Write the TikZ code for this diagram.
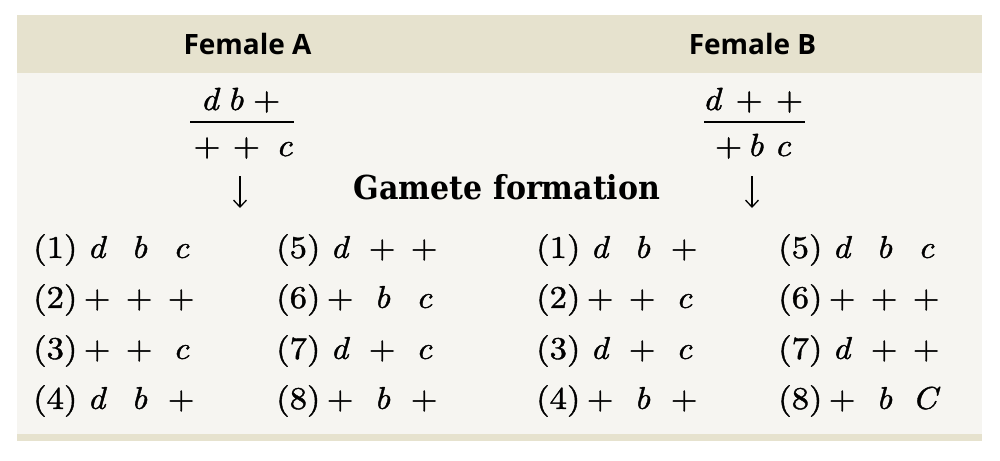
\documentclass[tikz,border=0pt]{standalone}
\usepackage{fontspec}
\newfontfamily\headfont{Open Sans}
\newfontfamily\gfont{lmroman10}[Extension=.otf, UprightFont=*-regular, ItalicFont=*-italic, FakeStretch=1.1, FakeBold=1.2]
\newfontfamily\tfont{DejaVu Serif}[FakeStretch=0.91]
\usetikzlibrary{arrows.meta}
\definecolor{headbg}{HTML}{E6E2CE}
\definecolor{bodybg}{HTML}{F6F5F1}
\newcommand{\gi}[1]{\textit{#1}}
\newcommand{\gent}[4]{\makebox[43pt][l]{(#1)}\makebox[42pt]{#2}\makebox[42pt]{#3}\makebox[42pt]{#4}}
\begin{document}
\begin{tikzpicture}[x=1pt,y=-1pt,
  head/.style={font=\headfont\bfseries\fontsize{28}{32}\selectfont, anchor=base, inner sep=0},
  frac/.style={font=\gfont\fontsize{32}{38}\selectfont, anchor=base, inner sep=0},
  gam/.style={font=\gfont\fontsize{31.5}{36}\selectfont, anchor=west, inner sep=0},
  title/.style={font=\tfont\bfseries\fontsize{33}{40}\selectfont, anchor=base, inner sep=0},
  bar/.style={line width=1.4pt},
  arr/.style={line width=1.3pt, -{Straight Barb[length=7pt,width=13pt]}}]
\useasboundingbox (0,0) rectangle (1000,460);
\fill[white] (0,0) rectangle (1000,460);
\fill[bodybg] (17,15) rectangle (982,441);
\fill[headbg] (17,15) rectangle (982,73);
\fill[headbg] (17,434) rectangle (982,441);
% headers
\node[head] (fA) at (247.5,55) {Female A};
\node[head] (fB) at (752.5,55) {Female B};
% fraction A
\node[frac] (nA) at (240.5,110) {\gi{d}\kern7pt\gi{b}\kern9.5pt+};
\node[frac] (dA) at (243,156) {+\kern12pt+\kern16pt\gi{c}};
\coordinate (bA1) at (190,122);
\coordinate (bA2) at (294,122);
\draw[bar] (bA1) -- (bA2);
\coordinate (aA1) at (240,176);
\coordinate (aA2) at (240,208);
\draw[arr] (aA1) -- (aA2);
% fraction B
\node[frac] (nB) at (753,110) {\gi{d}\kern13pt+\kern13pt+};
\node[frac] (dB) at (753,156) {+\kern5pt\gi{b}\kern11pt\gi{c}};
\coordinate (bB1) at (704,122);
\coordinate (bB2) at (805,122);
\draw[bar] (bB1) -- (bB2);
\coordinate (aB1) at (752,176);
\coordinate (aB2) at (752,208);
\draw[arr] (aB1) -- (aB2);
% title
\node[title] (gf) at (507,199) {Gamete formation};
% Female A gametes
\node[gam] (a1) at (33,250) {\gent{1}{\gi d}{\gi b}{\gi c}};
\node[gam] (a2) at (33,300) {\gent{2}{+}{+}{+}};
\node[gam] (a3) at (33,351) {\gent{3}{+}{+}{\gi c}};
\node[gam] (a4) at (33,401) {\gent{4}{\gi d}{\gi b}{+}};
\node[gam] (a5) at (276,250) {\gent{5}{\gi d}{+}{+}};
\node[gam] (a6) at (276,300) {\gent{6}{+}{\gi b}{\gi c}};
\node[gam] (a7) at (276,351) {\gent{7}{\gi d}{+}{\gi c}};
\node[gam] (a8) at (276,401) {\gent{8}{+}{\gi b}{+}};
% Female B gametes
\node[gam] (b1) at (536,250) {\gent{1}{\gi d}{\gi b}{+}};
\node[gam] (b2) at (536,300) {\gent{2}{+}{+}{\gi c}};
\node[gam] (b3) at (536,351) {\gent{3}{\gi d}{+}{\gi c}};
\node[gam] (b4) at (536,401) {\gent{4}{+}{\gi b}{+}};
\node[gam] (b5) at (778,250) {\gent{5}{\gi d}{\gi b}{\gi c}};
\node[gam] (b6) at (778,300) {\gent{6}{+}{+}{+}};
\node[gam] (b7) at (778,351) {\gent{7}{\gi d}{+}{+}};
\node[gam] (b8) at (778,401) {\gent{8}{+}{\gi b}{\gi C}};
\end{tikzpicture}
\end{document}
